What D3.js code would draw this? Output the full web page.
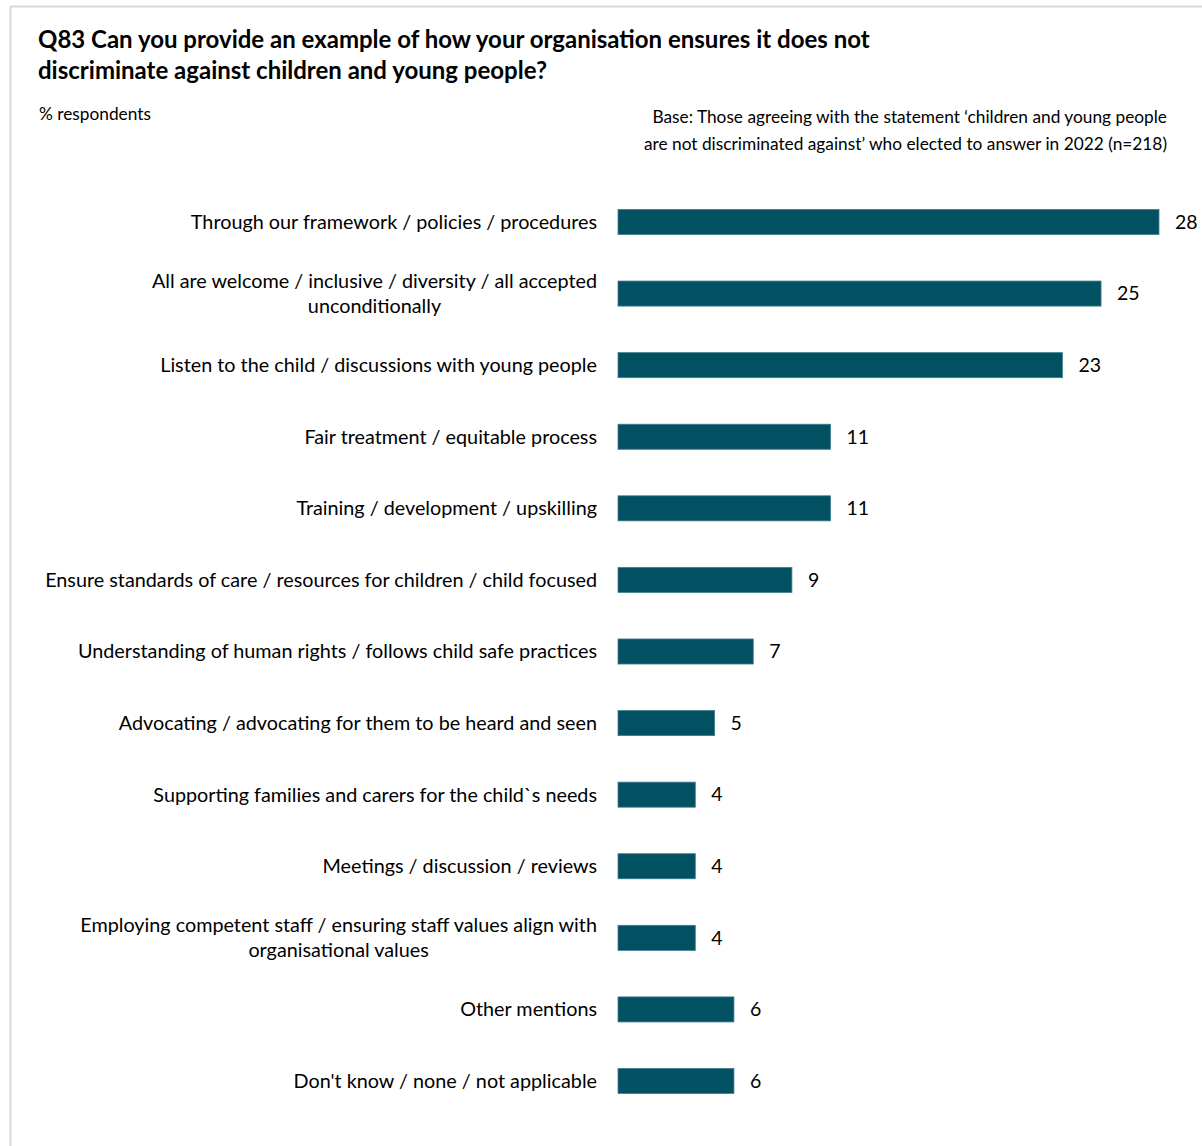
<!DOCTYPE html>
<html><head><meta charset="utf-8">
<script src="https://cdn.jsdelivr.net/npm/d3@7"></script>
<style>html,body{margin:0;padding:0;background:#fff;}svg{display:block;}</style>
</head><body>
<script>
const categories = [
  ["Through our framework / policies / procedures"],
  ["All are welcome / inclusive / diversity / all accepted", "unconditionally"],
  ["Listen to the child / discussions with young people"],
  ["Fair treatment / equitable process"],
  ["Training / development / upskilling"],
  ["Ensure standards of care / resources for children / child focused"],
  ["Understanding of human rights / follows child safe practices"],
  ["Advocating / advocating for them to be heard and seen"],
  ["Supporting families and carers for the child`s needs"],
  ["Meetings / discussion / reviews"],
  ["Employing competent staff / ensuring staff values align with", "organisational values"],
  ["Other mentions"],
  ["Don't know / none / not applicable"]
];
const values = [28, 25, 23, 11, 11, 9, 7, 5, 4, 4, 4, 6, 6];
const titleLines = ["Q83 Can you provide an example of how your organisation ensures it does not",
                    "discriminate against children and young people?"];
const subtitle = "% respondents";
const baseLines = ["Base: Those agreeing with the statement \u2018children and young people",
                   "are not discriminated against\u2019 who elected to answer in 2022 (n=218)"];

const W = 1202, H = 1146;
const FONT = "Lato, 'Open Sans', sans-serif";
const svg = d3.select("body").append("svg").attr("width", W).attr("height", H);

// frame lines
svg.append("line").attr("x1", 10).attr("x2", W).attr("y1", 6.5).attr("y2", 6.5).attr("stroke", "#d9d9d9").attr("stroke-width", 2);
svg.append("line").attr("x1", 10.5).attr("x2", 10.5).attr("y1", 6).attr("y2", H).attr("stroke", "#d9d9d9").attr("stroke-width", 2);

// title
svg.append("g").selectAll("text").data(titleLines).join("text")
  .attr("x", 38).attr("y", (d, i) => 48 + i * 31)
  .attr("font-family", FONT).attr("font-weight", "bold").attr("font-size", 24).attr("fill", "#000")
  .text(d => d);

svg.append("text").attr("x", 39).attr("y", 120).attr("font-family", FONT).attr("font-size", 17.3).attr("fill", "#000").text(subtitle);

svg.append("g").selectAll("text").data(baseLines).join("text")
  .attr("x", 1167).attr("y", (d, i) => 123 + i * 27).attr("text-anchor", "end")
  .attr("font-family", FONT).attr("font-size", 17.3).attr("fill", "#000").text(d => d);

const x0 = 618;
const x = d3.scaleLinear().domain([0, 28]).range([x0, 1159]);
const y = d3.scaleBand().domain(d3.range(values.length)).range([186.2, 1116.8]).paddingInner(0.65).paddingOuter(0.325);

const g = svg.append("g");
g.selectAll("rect").data(values).join("rect")
  .attr("x", x(0)).attr("y", (d, i) => y(i)).attr("width", d => x(d) - x(0)).attr("height", y.bandwidth())
  .attr("fill", "#025162").attr("stroke", "#3d7f8e").attr("stroke-width", 0.8);

g.selectAll("text.val").data(values).join("text").attr("class", "val")
  .attr("x", d => x(d) + 16).attr("y", (d, i) => y(i) + y.bandwidth() / 2).attr("dy", "0.35em")
  .attr("font-family", FONT).attr("font-size", 19.5).attr("fill", "#000").text(d => d);

const labelRight = 597;
categories.forEach((lines, i) => {
  const cy = y(i) + y.bandwidth() / 2;
  const t = g.append("text").attr("font-family", FONT).attr("font-size", 19.8).attr("fill", "#000");
  const lh = 25;
  const tspans = lines.map((ln, j) => t.append("tspan").attr("y", cy + (j - (lines.length - 1) / 2) * lh).attr("dy", "0.35em").text(ln));
  const widths = tspans.map(ts => ts.node().getComputedTextLength());
  const maxW = Math.max(...widths);
  const center = labelRight - maxW / 2;
  tspans.forEach(ts => ts.attr("x", center).attr("text-anchor", "middle"));
});
</script>
</body></html>
